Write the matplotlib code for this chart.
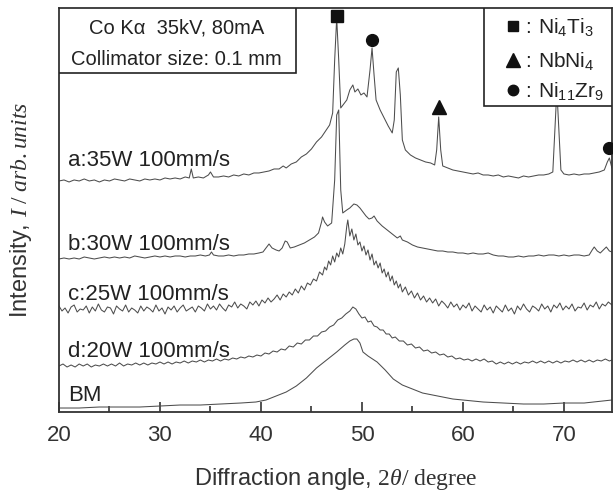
import matplotlib
matplotlib.use('Agg')
import matplotlib.pyplot as plt
from matplotlib.patches import Rectangle

plt.rcParams['font.family'] = ['Liberation Sans', 'DejaVu Sans']
plt.rcParams['mathtext.fontset'] = 'custom'
plt.rcParams['mathtext.rm'] = 'Liberation Serif'
plt.rcParams['mathtext.it'] = 'Liberation Serif:italic'
plt.rcParams['mathtext.sf'] = 'Liberation Sans'

# (2theta, intensity), already stacked
scan_a = [(20.0, 231), (20.5, 232), (21.0, 230), (21.5, 232), (22.0, 231), (22.5, 233), (23.0, 231), (23.5, 232),
          (24.0, 230), (24.5, 232), (25.0, 231), (25.5, 233), (26.0, 232), (26.5, 231), (27.0, 233), (27.5, 232),
          (28.0, 231), (28.5, 233), (29.0, 232), (29.5, 233), (30.0, 232), (30.5, 234), (31.0, 233), (31.5, 234),
          (32.0, 233), (32.5, 235), (32.9, 234), (33.1, 243), (33.3, 234), (33.8, 235), (34.3, 234), (34.8, 237),
          (35.0, 240), (35.3, 235), (35.8, 235), (36.3, 236), (36.8, 235), (37.3, 237), (37.8, 236), (38.3, 238),
          (38.8, 237), (39.3, 239), (39.8, 239), (40.3, 240), (40.8, 241), (41.3, 243), (41.8, 243), (42.2, 246),
          (42.5, 244), (43.0, 248), (43.5, 250), (44.0, 255), (44.5, 258), (45.0, 263), (45.5, 270), (46.0, 275),
          (46.4, 281), (46.8, 287), (47.1, 299), (47.3, 352), (47.5, 394), (47.7, 352), (47.9, 304), (48.2, 308),
          (48.5, 312), (48.8, 322), (49.1, 327), (49.3, 320), (49.6, 323), (49.9, 317), (50.2, 319), (50.5, 315),
          (50.8, 342), (51.0, 364), (51.2, 337), (51.4, 312), (51.8, 302), (52.2, 294), (52.6, 286), (53.0, 279),
          (53.2, 292), (53.4, 340), (53.6, 344), (53.8, 317), (54.0, 272), (54.3, 262), (54.8, 257), (55.3, 254),
          (55.8, 252), (56.3, 250), (56.8, 249), (57.2, 247), (57.4, 262), (57.6, 295), (57.8, 262), (58.0, 246),
          (58.5, 244), (59.0, 242), (59.5, 241), (60.0, 240), (60.5, 239), (61.0, 238), (61.5, 239), (62.0, 237),
          (62.5, 237), (63.0, 236), (63.5, 237), (64.0, 235), (64.5, 236), (65.0, 235), (65.5, 234), (66.0, 236),
          (66.5, 235), (67.0, 236), (67.5, 237), (68.0, 237), (68.5, 238), (68.9, 240), (69.1, 282), (69.3, 322),
          (69.5, 282), (69.7, 242), (70.0, 238), (70.5, 237), (71.0, 238), (71.5, 237), (72.0, 238), (72.5, 238),
          (73.0, 239), (73.5, 240), (74.0, 242), (74.3, 250), (74.5, 254), (74.75, 244)]

scan_b = [(20.0, 153), (20.5, 154), (21.0, 153), (21.5, 154), (22.0, 153), (22.5, 155), (23.0, 154), (23.5, 153),
          (24.0, 154), (24.5, 155), (25.0, 154), (25.5, 155), (26.0, 154), (26.5, 155), (27.0, 154), (27.5, 156),
          (28.0, 155), (28.5, 154), (29.0, 155), (29.5, 156), (30.0, 155), (30.5, 156), (31.0, 155), (31.5, 156),
          (32.0, 156), (32.5, 155), (33.0, 156), (33.5, 156), (34.0, 157), (34.5, 156), (34.9, 157), (35.1, 160),
          (35.3, 157), (35.8, 156), (36.3, 156), (36.8, 157), (37.3, 156), (37.8, 157), (38.3, 157), (38.8, 158),
          (39.3, 158), (39.8, 159), (40.2, 160), (40.5, 164), (40.8, 168), (41.1, 164), (41.5, 162), (41.8, 161),
          (42.1, 164), (42.4, 171), (42.6, 170), (42.9, 164), (43.3, 165), (43.8, 167), (44.3, 169), (44.8, 172),
          (45.3, 175), (45.7, 179), (46.0, 190), (46.1, 195), (46.3, 190), (46.6, 186), (47.0, 189), (47.3, 232),
          (47.5, 297), (47.7, 302), (47.9, 222), (48.1, 199), (48.5, 202), (48.8, 204), (49.2, 208), (49.5, 207),
          (49.8, 204), (50.1, 200), (50.4, 196), (50.7, 193), (51.0, 194), (51.2, 196), (51.5, 191), (52.0, 186),
          (52.5, 182), (53.0, 178), (53.5, 174), (53.8, 176), (54.0, 172), (54.5, 170), (55.0, 167), (55.5, 165),
          (56.0, 164), (56.5, 163), (57.0, 162), (57.5, 161), (58.0, 161), (58.5, 160), (59.0, 160), (59.5, 159),
          (60.0, 159), (60.5, 158), (61.0, 159), (61.5, 158), (62.0, 158), (62.5, 159), (63.0, 157), (63.5, 156),
          (64.0, 156), (64.5, 155), (65.0, 155), (65.5, 156), (66.0, 155), (66.5, 156), (67.0, 156), (67.5, 157),
          (68.0, 156), (68.5, 157), (69.0, 157), (69.5, 156), (70.0, 157), (70.5, 156), (71.0, 157), (71.5, 157),
          (72.0, 156), (72.5, 157), (72.8, 162), (73.0, 165), (73.3, 161), (73.6, 159), (73.9, 162), (74.2, 165),
          (74.5, 161), (74.75, 160)]

scan_c = [(20.0, 106), (20.3, 101), (20.6, 104), (20.9, 99), (21.2, 105), (21.5, 107), (21.8, 100), (22.1, 103),
          (22.4, 102), (22.7, 106), (23.0, 99), (23.3, 105), (23.6, 101), (23.9, 108), (24.2, 102), (24.5, 100),
          (24.8, 105), (25.1, 104), (25.4, 98), (25.7, 106), (26.0, 103), (26.3, 101), (26.6, 107), (26.9, 100),
          (27.2, 104), (27.5, 102), (27.8, 99), (28.1, 106), (28.4, 101), (28.7, 105), (29.0, 103), (29.3, 100),
          (29.6, 107), (29.9, 101), (30.2, 104), (30.5, 98), (30.8, 105), (31.1, 102), (31.4, 106), (31.7, 100),
          (32.0, 104), (32.3, 107), (32.6, 101), (32.9, 103), (33.2, 105), (33.5, 100), (33.8, 106), (34.1, 104),
          (34.4, 101), (34.7, 108), (35.0, 103), (35.3, 106), (35.6, 102), (35.9, 108), (36.2, 104), (36.5, 101),
          (36.8, 107), (37.1, 105), (37.4, 110), (37.7, 104), (38.0, 108), (38.3, 106), (38.6, 103), (38.9, 110),
          (39.2, 107), (39.5, 111), (39.8, 106), (40.1, 112), (40.4, 109), (40.7, 114), (41.0, 110), (41.3, 113),
          (41.6, 117), (41.9, 112), (42.2, 118), (42.5, 115), (42.8, 120), (43.1, 117), (43.4, 123), (43.7, 119),
          (44.0, 126), (44.3, 122), (44.6, 129), (44.9, 127), (45.2, 133), (45.5, 131), (45.8, 140), (46.1, 137),
          (46.3, 145), (46.5, 142), (46.7, 151), (46.9, 147), (47.1, 156), (47.3, 150), (47.5, 159), (47.7, 155),
          (47.9, 164), (48.1, 158), (48.3, 168), (48.5, 186), (48.6, 192), (48.8, 176), (49.0, 183), (49.2, 172),
          (49.4, 178), (49.6, 167), (49.8, 170), (50.0, 161), (50.2, 166), (50.4, 157), (50.6, 162), (50.8, 152),
          (51.0, 158), (51.2, 147), (51.4, 151), (51.6, 144), (51.8, 149), (52.0, 139), (52.2, 143), (52.4, 135),
          (52.6, 140), (52.8, 131), (53.0, 136), (53.2, 127), (53.4, 131), (53.6, 124), (53.8, 128), (54.0, 120),
          (54.3, 125), (54.6, 117), (54.9, 121), (55.2, 114), (55.5, 119), (55.8, 112), (56.1, 116), (56.4, 110),
          (56.7, 114), (57.0, 109), (57.3, 113), (57.6, 106), (57.9, 111), (58.2, 108), (58.5, 104), (58.8, 110),
          (59.1, 105), (59.4, 108), (59.7, 102), (60.0, 107), (60.3, 104), (60.6, 109), (60.9, 101), (61.2, 106),
          (61.5, 103), (61.8, 100), (62.1, 107), (62.4, 102), (62.7, 105), (63.0, 99), (63.3, 106), (63.6, 103),
          (63.9, 100), (64.2, 107), (64.5, 101), (64.8, 104), (65.1, 98), (65.4, 106), (65.7, 102), (66.0, 108),
          (66.3, 103), (66.6, 100), (66.9, 106), (67.2, 104), (67.5, 101), (67.8, 108), (68.1, 103), (68.4, 106),
          (68.7, 100), (69.0, 107), (69.3, 104), (69.6, 109), (69.9, 102), (70.2, 106), (70.5, 103), (70.8, 108),
          (71.1, 101), (71.4, 105), (71.7, 104), (72.0, 109), (72.3, 102), (72.6, 107), (72.9, 105), (73.2, 110),
          (73.5, 103), (73.8, 108), (74.1, 106), (74.4, 110), (74.75, 107)]

scan_d = [(20.0, 46), (20.4, 48), (20.8, 45), (21.2, 47), (21.6, 45), (22.0, 48), (22.4, 46), (22.8, 48),
          (23.2, 45), (23.6, 47), (24.0, 46), (24.4, 48), (24.8, 46), (25.2, 48), (25.6, 46), (26.0, 49),
          (26.4, 46), (26.8, 48), (27.2, 47), (27.6, 49), (28.0, 47), (28.4, 49), (28.8, 47), (29.2, 49),
          (29.6, 48), (30.0, 50), (30.4, 48), (30.8, 50), (31.2, 48), (31.6, 50), (32.0, 49), (32.4, 51),
          (32.8, 49), (33.2, 51), (33.6, 50), (34.0, 52), (34.4, 50), (34.8, 52), (35.2, 51), (35.6, 53),
          (36.0, 51), (36.4, 53), (36.8, 52), (37.2, 54), (37.6, 53), (38.0, 55), (38.4, 54), (38.8, 56),
          (39.2, 55), (39.6, 57), (40.0, 56), (40.4, 59), (40.8, 58), (41.2, 61), (41.6, 60), (42.0, 63),
          (42.4, 62), (42.8, 66), (43.2, 65), (43.6, 69), (44.0, 68), (44.4, 72), (44.8, 72), (45.2, 76),
          (45.6, 76), (46.0, 80), (46.4, 81), (46.8, 85), (47.2, 87), (47.6, 92), (48.0, 94), (48.4, 98),
          (48.8, 101), (49.1, 105), (49.4, 103), (49.7, 98), (50.0, 94), (50.3, 95), (50.6, 90), (50.9, 91),
          (51.2, 86), (51.5, 85), (51.8, 82), (52.1, 82), (52.4, 78), (52.7, 78), (53.0, 74), (53.3, 75),
          (53.7, 71), (54.1, 71), (54.5, 67), (54.9, 68), (55.3, 64), (55.7, 65), (56.1, 61), (56.5, 62),
          (56.9, 59), (57.3, 60), (57.7, 57), (58.1, 58), (58.5, 55), (58.9, 56), (59.3, 53), (59.7, 54),
          (60.1, 52), (60.5, 53), (60.9, 51), (61.3, 53), (61.7, 51), (62.1, 53), (62.5, 50), (62.9, 51),
          (63.3, 48), (63.7, 50), (64.1, 48), (64.5, 50), (64.9, 48), (65.3, 50), (65.7, 48), (66.1, 50),
          (66.5, 49), (66.9, 51), (67.3, 49), (67.7, 51), (68.1, 49), (68.5, 51), (68.9, 49), (69.3, 51),
          (69.7, 49), (70.1, 51), (70.5, 50), (70.9, 52), (71.3, 50), (71.7, 52), (72.1, 50), (72.5, 52),
          (72.9, 50), (73.3, 52), (73.7, 51), (74.1, 53), (74.5, 51), (74.75, 52)]

scan_bm = [(20.0, 4), (22.0, 4), (24.0, 5), (26.0, 5), (28.0, 5), (30.0, 6), (32.0, 7), (34.0, 7), (36.0, 8),
           (38.0, 9), (39.5, 10), (40.5, 12), (41.5, 16), (42.5, 20), (43.5, 26), (44.5, 34), (45.5, 44),
           (46.5, 52), (47.5, 60), (48.3, 67), (48.8, 71), (49.2, 73), (49.5, 73), (49.8, 69), (50.1, 60),
           (50.6, 56), (51.5, 50), (52.3, 42), (53.1, 33), (54.0, 27), (55.0, 23), (56.0, 19), (57.0, 17),
           (58.0, 15), (59.0, 13), (60.0, 12), (62.0, 10), (64.0, 9), (66.0, 8), (68.0, 8), (70.0, 9),
           (72.0, 9), (74.75, 12)]

scan_labels = ['a:35W 100mm/s', 'b:30W 100mm/s', 'c:25W 100mm/s', 'd:20W 100mm/s', 'BM']
label_heights = [246, 162, 112, 55, 11]

# phase markers over peaks: (2theta, height, marker)
phase_marks = [(47.5, 396, 's'), (51.0, 372, 'o'), (57.6, 305, '^'), (74.5, 264, 'o')]
phase_names = ['Ni$_\\mathsf{4}$Ti$_\\mathsf{3}$', 'NbNi$_\\mathsf{4}$', 'Ni$_\\mathsf{11}$Zr$_\\mathsf{9}$']
phase_symbols = ['s', '^', 'o']

fig = plt.figure(figsize=(6.13, 4.97), dpi=100)
ax = fig.add_axes([0.0962, 0.171, 0.902, 0.813])

line_col = '#4d4d4d'
for scan in [scan_a, scan_b, scan_c, scan_d, scan_bm]:
    xs, ys = zip(*scan)
    ax.plot(xs, ys, color=line_col, lw=0.75)

for lab, h in zip(scan_labels, label_heights):
    ax.text(20.9, h, lab, fontsize=16, color='#222222', va='baseline')

for x, y, m in phase_marks:
    ax.plot(x, y, marker=m, color='#111111', ms=8.5 if m != '^' else 10.5, clip_on=False, zorder=6)

# info box top left
ax.add_patch(Rectangle((0, 0.839), 0.4286, 0.161, transform=ax.transAxes, fc='white',
                       ec='#222222', lw=1.2, zorder=5))
ax.text(0.213, 0.936, 'Co K\u03b1  35kV, 80mA', transform=ax.transAxes, ha='center',
        va='baseline', fontsize=14.5, color='#222222', zorder=6)
ax.text(0.213, 0.859, 'Collimator size: 0.1 mm', transform=ax.transAxes, ha='center',
        va='baseline', fontsize=14.5, color='#222222', zorder=6)

# phase legend box top right
ax.add_patch(Rectangle((0.768, 0.757), 0.232, 0.243, transform=ax.transAxes, fc='white',
                       ec='#222222', lw=1.2, zorder=5))
for i, (name, sym) in enumerate(zip(phase_names, phase_symbols)):
    yb = [0.938, 0.854, 0.780][i]
    ax.plot(0.821, yb + 0.018, marker=sym, color='#111111', ms=7.5 if sym != '^' else 9.5,
            transform=ax.transAxes, zorder=7, clip_on=False)
    ax.text(0.843, yb, ':', transform=ax.transAxes, va='baseline', fontsize=15, color='#222222', zorder=7)
    ax.text(0.866, yb, name, transform=ax.transAxes, va='baseline', fontsize=15, color='#222222', zorder=7)

ax.set_xlim(20, 74.75)
ax.set_ylim(0, 404)
ax.set_xticks([20, 30, 40, 50, 60, 70])
ax.set_xticks([25, 35, 45, 55, 65], minor=True)
ax.set_yticks([])
ax.tick_params(axis='x', which='major', direction='in', length=7, width=1.2, pad=9,
               labelsize=16, labelcolor='#333333', color='#333333')
ax.tick_params(axis='x', which='minor', direction='in', length=4, width=1.2, color='#333333')
for s in ax.spines.values():
    s.set_color('#333333')
    s.set_linewidth(1.3)

ax.set_xlabel('Diffraction angle, $\\mathrm{2}\\theta\\mathrm{/\\ degree}$', fontsize=17,
              color='#333333', labelpad=15)
ax.set_ylabel('Intensity, $I\\ /\\ arb.units$', fontsize=17, color='#333333', labelpad=18)

plt.savefig('out.png', dpi=100)
